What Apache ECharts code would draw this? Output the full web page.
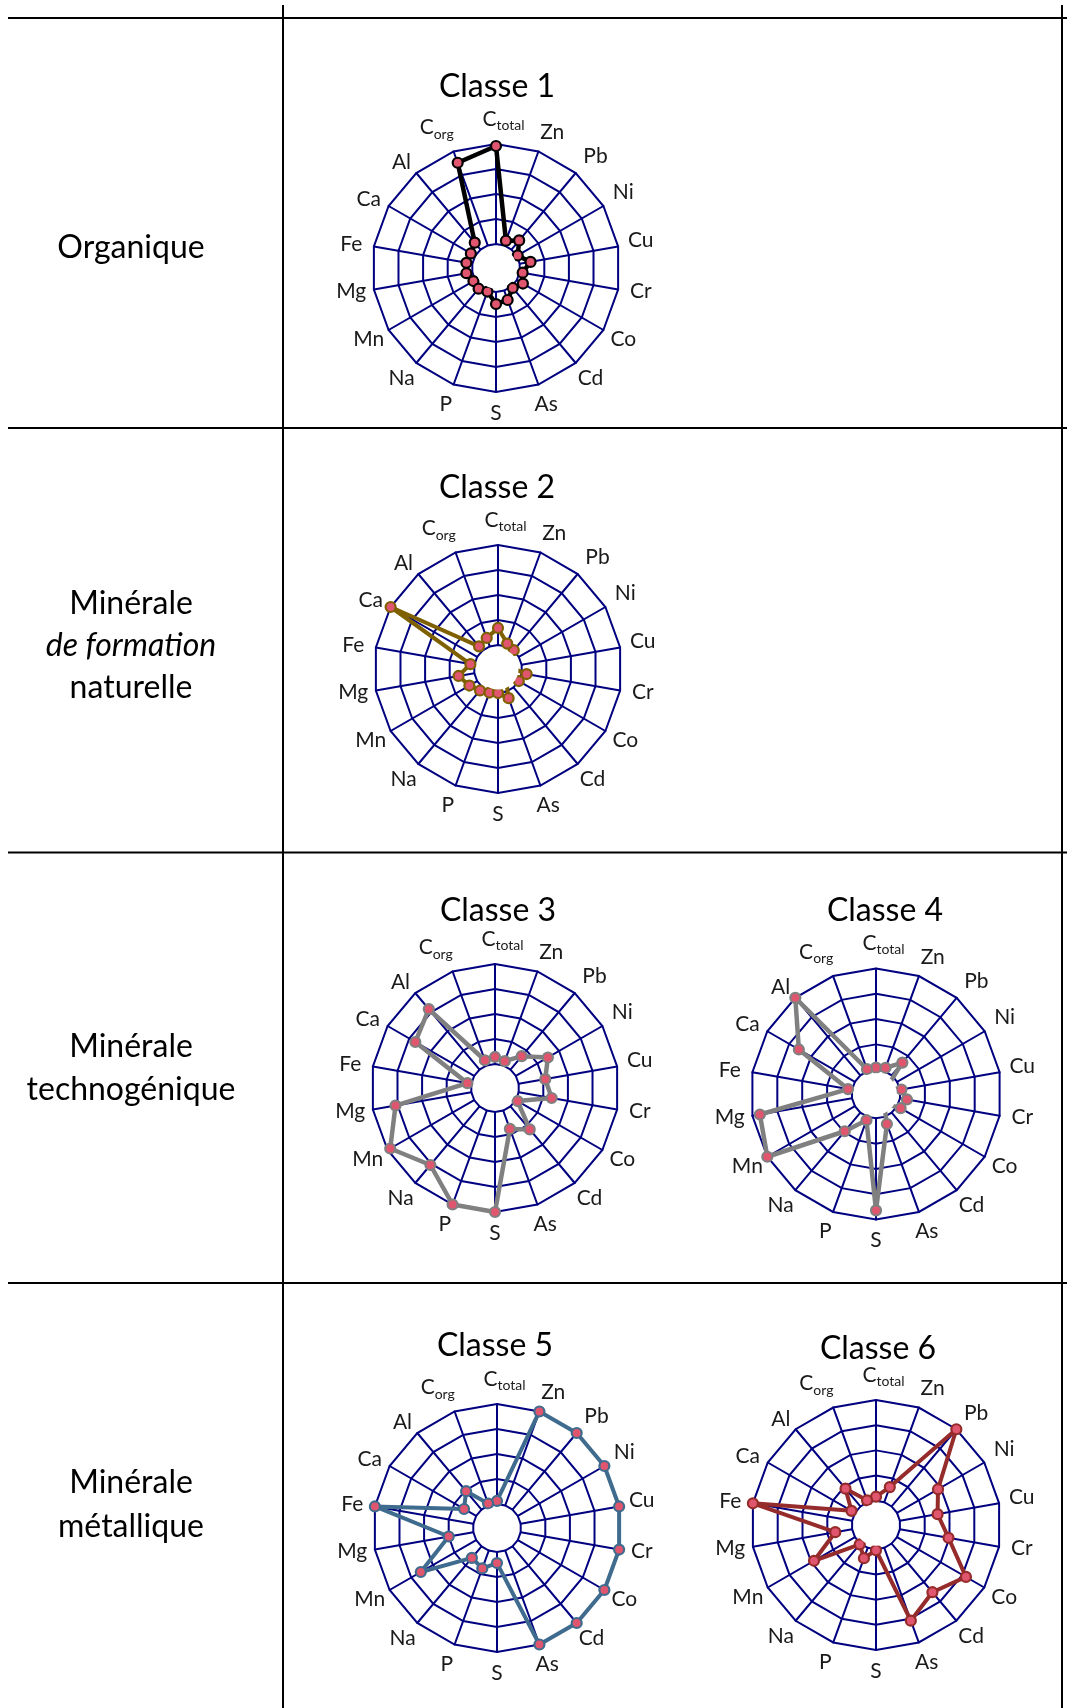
<!DOCTYPE html>
<html><head><meta charset="utf-8">
<script src="https://cdn.jsdelivr.net/npm/echarts@6/dist/echarts.min.js"></script>
<style>html,body{margin:0;padding:0;background:#fff}#c{width:1067px;height:1708px}</style>
</head><body><div id="c"></div>
<script>
// axes, clockwise from the top
const categories = ['Ctotal','Zn','Pb','Ni','Cu','Cr','Co','Cd','As','S','P','Na','Mn','Mg','Fe','Ca','Al','Corg'];
// values on a 0..1 scale (0 = inner ring, 1 = outer ring); negatives sit inside the hole
const classe1 = [0.98, 0.05, 0.12, 0.01, 0.11, 0.03, 0.07, 0.02, 0.10, 0.12, 0.01, 0.03, 0.02, 0.06, 0.06, 0.05, 0.09, 0.88];
const classe2 = [0.17, 0.03, 0.005, -0.12, -0.12, 0.05, 0.0, -0.12, 0.07, 0.0, 0.01, 0.04, 0.09, 0.16, 0.04, 1.0, 0.055, 0.09];
const classe3 = [0.07, 0.045, 0.175, 0.37, 0.27, 0.335, 0.02, 0.30, 0.195, 1.0, 1.0, 0.765, 0.97, 0.77, 0.04, 0.68, 0.79, 0.055];
const classe4 = [0.02, 0.035, 0.165, -0.12, 0.015, 0.07, 0.04, -0.12, 0.075, 0.91, 0.035, 0.24, 1.0, 0.925, 0.04, 0.64, 1.0, 0.02];
const classe5 = [0.03, 1.0, 1.0, 1.0, 1.0, 1.0, 1.0, 1.0, 1.0, 0.11, 0.19, 0.15, 0.64, 0.25, 1.0, 0.14, 0.24, 0.02];
const classe6 = [0.04, 0.16, 1.0, 0.47, 0.38, 0.49, 0.79, 0.63, 0.77, 0.01, 0.11, 0.01, 0.47, 0.17, 1.0, 0.04, 0.23, 0.02];
const classTitles = ['Classe 1','Classe 2','Classe 3','Classe 4','Classe 5','Classe 6'];
const rowLabels = [['Organique'], ['Minérale','de formation','naturelle'], ['Minérale','technogénique'], ['Minérale','métallique']];
const axisMin = 0, axisMax = 1, rings = 4;

const FONT = 'Lato';
const allData = [classe1, classe2, classe3, classe4, classe5, classe6];
const layouts = [
  {cx: 496, cy: 268, R: 124, tx: 497, ty: 87},
  {cx: 498, cy: 669, R: 124, tx: 497, ty: 488},
  {cx: 495, cy: 1088, R: 124, tx: 498, ty: 911},
  {cx: 876, cy: 1094, R: 125.5, tx: 885, ty: 911},
  {cx: 497, cy: 1528, R: 124, tx: 495, ty: 1346},
  {cx: 876, cy: 1525, R: 125, tx: 878, ty: 1349}
];
const colors = [
  {line: '#000000', width: 4.5},
  {line: '#7F6000', width: 4},
  {line: '#808080', width: 4.5},
  {line: '#808080', width: 4.5},
  {line: '#3F6B8E', width: 4},
  {line: '#952B2B', width: 4}
];
const markerFill = '#E0566E';
const gridColor = '#000080';
const nameColor = '#1a1a1a';
const NS = 21;

// ECharts radar runs counter-clockwise: reorder clockwise lists
const order = [0].concat(categories.slice(1).map((_, i) => categories.length - 1 - i));

function tok(pad) { return {fontSize: NS, fontFamily: FONT, color: nameColor, padding: pad}; }
const richStyles = {
  c: tok([0, 0, 0, 0]),
  cl: tok([0, 0, 0, 15]),
  z: tok([10, 0, 0, 12]),
  p: tok([7, 0, 0, 10]),
  al: tok([19, 0, 0, 0]),
  ca: tok([14, 0, 0, 0]),
  fe: tok([8, 0, 0, 0]),
  s: {fontSize: 14, fontFamily: FONT, color: nameColor, verticalAlign: 'bottom', padding: [0, 0, -3, 0]},
  sr: {fontSize: 14, fontFamily: FONT, color: nameColor, verticalAlign: 'bottom', padding: [0, 18, -3, 0]}
};
const nameToken = {Zn: 'z', Pb: 'p', Al: 'al', Ca: 'ca', Fe: 'fe'};

const radars = [], series = [], graphics = [];
layouts.forEach((L, k) => {
  const r0 = L.R * 0.194;
  radars.push({
    center: [L.cx, L.cy],
    radius: [r0, L.R],
    startAngle: 90,
    splitNumber: rings,
    shape: 'polygon',
    indicator: order.map(i => ({name: categories[i], min: axisMin, max: axisMax})),
    axisName: {
      color: nameColor,
      fontFamily: FONT,
      fontSize: NS,
      align: 'center',
      verticalAlign: 'middle',
      padding: [0, 0, 4.5, 0],
      formatter: function (n) {
        if (n === 'Ctotal') return '{cl|C}{s|total}';
        if (n === 'Corg') return '{c|C}{sr|org}';
        return '{' + (nameToken[n] || 'c') + '|' + n + '}';
      },
      rich: richStyles
    },
    nameGap: 23,
    axisLine: {show: true, lineStyle: {color: gridColor, width: 2}},
    splitLine: {show: true, lineStyle: {color: gridColor, width: 2}},
    splitArea: {show: false},
    axisTick: {show: false},
    axisLabel: {show: false}
  });
  series.push({
    type: 'radar',
    radarIndex: k,
    z: 2,
    symbol: 'circle',
    symbolSize: 10,
    lineStyle: {color: colors[k].line, width: colors[k].width},
    itemStyle: {color: markerFill, borderColor: colors[k].line, borderWidth: 2.2},
    data: [{value: order.map(i => allData[k][i]), name: classTitles[k]}]
  });
  graphics.push({type: 'circle', z: 50, silent: true, shape: {cx: L.cx, cy: L.cy, r: r0 - 3.5}, style: {fill: '#ffffff'}});
  graphics.push({type: 'text', z: 60, x: L.tx, y: L.ty, style: {text: classTitles[k], font: '32px ' + FONT, fill: '#000', align: 'center', verticalAlign: 'middle', textAlign: 'center', textVerticalAlign: 'middle'}});
});

// table rules
const hl = [18, 428, 852.5, 1283];
hl.forEach(y => graphics.push({type: 'line', z: 60, shape: {x1: 8, y1: y, x2: 1067, y2: y}, style: {stroke: '#000', lineWidth: 2}}));
[283, 1062].forEach(x => graphics.push({type: 'line', z: 60, shape: {x1: x, y1: 5, x2: x, y2: 1708}, style: {stroke: '#000', lineWidth: 2}}));

// row labels
const rowY = [[248], [604, 646, 688], [1047, 1090], [1483, 1527]];
rowLabels.forEach((lines, r) => {
  lines.forEach((t, j) => {
    const italic = (t === 'de formation');
    graphics.push({type: 'text', z: 60, x: 131, y: rowY[r][j], style: {text: t, font: (italic ? 'italic ' : '') + '32px ' + FONT, fill: '#000', align: 'center', verticalAlign: 'middle', textAlign: 'center', textVerticalAlign: 'middle'}});
  });
});

const chart = echarts.init(document.getElementById('c'), null, {renderer: 'canvas'});
chart.setOption({
  backgroundColor: '#ffffff',
  animation: false,
  radar: radars,
  series: series,
  graphic: {elements: graphics}
});
</script></body></html>
